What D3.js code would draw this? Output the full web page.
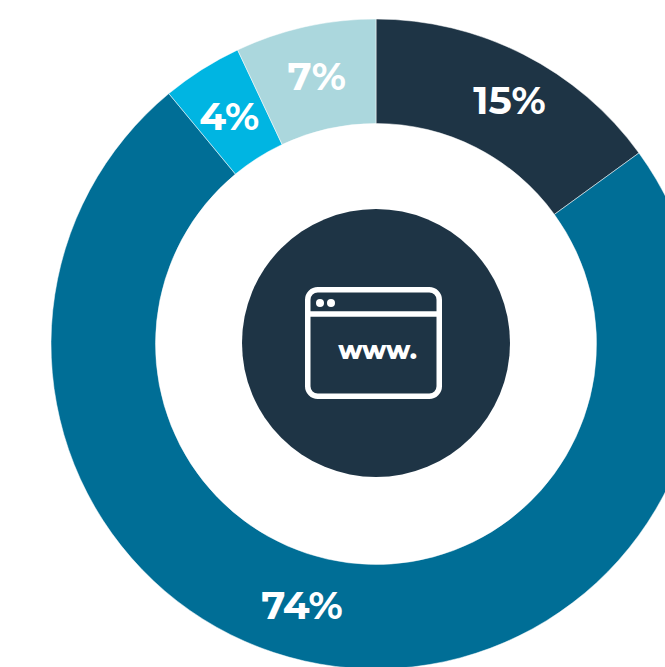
<!DOCTYPE html>
<html>
<head>
<meta charset="utf-8">
<script src="https://cdn.jsdelivr.net/npm/d3@7"></script>
<style>
  html, body { margin: 0; padding: 0; background: #fff; overflow: hidden; }
  text { font-family: "Montserrat", "Inter", "Open Sans", sans-serif; font-weight: 700; fill: #fff; }
</style>
</head>
<body>
<svg id="chart" width="665" height="667"></svg>
<script>
const categories = ["a", "b", "c", "d"];
const values = [15, 74, 4, 7];
const labels = ["15%", "74%", "4%", "7%"];
const colors = ["#1e3445", "#006e96", "#00b5e2", "#abd7dd"];

const cx = 376, cy = 344;
const outer = 325, inner = 220.5;

const svg = d3.select("#chart");
const g = svg.append("g").attr("transform", `translate(${cx},${cy})`);

const pie = d3.pie().sort(null)(values);
const arc = d3.arc().innerRadius(inner).outerRadius(outer);

g.selectAll("path.slice")
  .data(pie)
  .join("path")
    .attr("class", "slice")
    .attr("fill", (d, i) => colors[i])
    .attr("stroke", "#fff")
    .attr("stroke-width", 0.5)
    .attr("d", arc);

// labels sit around the middle of the ring, nudged to where the original has them
const labelArc = d3.arc().innerRadius(272).outerRadius(272);
const labelShift = [[10, -2], [-40, -9], [-1, 2], [0, -3]];
g.selectAll("text.pct")
  .data(pie)
  .join("text")
    .attr("class", "pct")
    .attr("text-anchor", "middle")
    .attr("dominant-baseline", "central")
    .attr("font-size", 39)
    .attr("transform", (d, i) => {
      const c = labelArc.centroid(d);
      return `translate(${c[0] + labelShift[i][0]},${c[1] + labelShift[i][1]})`;
    })
    .text((d, i) => labels[i]);

// centre badge
g.append("circle").attr("cy", -1).attr("r", 134).attr("fill", colors[0]);

const icon = g.append("g").attr("fill", "none").attr("stroke", "#fff").attr("stroke-width", 5.5);
icon.append("rect").attr("x", -68.25).attr("y", -54.25).attr("width", 131.5).attr("height", 106.5).attr("rx", 10);
icon.append("line").attr("x1", -68).attr("x2", 63).attr("y1", -30).attr("y2", -30);
g.selectAll("circle.dot")
  .data([-56, -45])
  .join("circle")
    .attr("class", "dot")
    .attr("cx", d => d)
    .attr("cy", -41)
    .attr("r", 4)
    .attr("fill", "#fff");
g.append("text")
  .attr("x", 1.5)
  .attr("y", 14.5)
  .attr("text-anchor", "middle")
  .attr("font-size", 25.5)
  .style("font-weight", 800)
  .text("www.");
</script>
</body>
</html>
